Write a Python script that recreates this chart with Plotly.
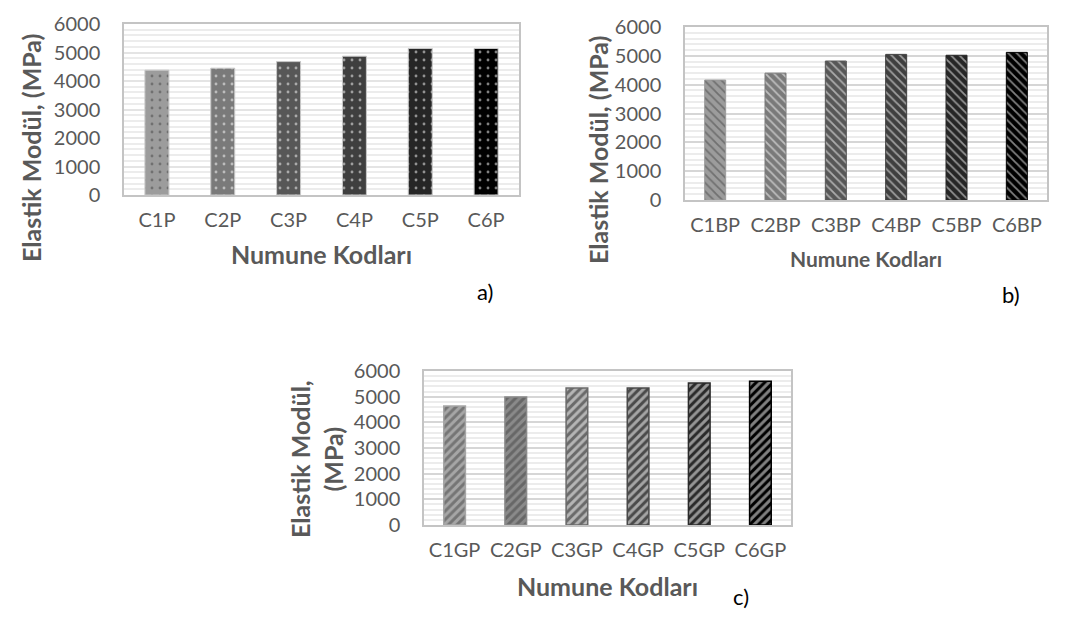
import plotly.graph_objects as go

W, H = 1074, 621

cats_a = ["C1P", "C2P", "C3P", "C4P", "C5P", "C6P"]
vals_a = [4380, 4450, 4680, 4870, 5140, 5140]

cats_b = ["C1BP", "C2BP", "C3BP", "C4BP", "C5BP", "C6BP"]
vals_b = [4160, 4400, 4820, 5050, 5020, 5120]

cats_c = ["C1GP", "C2GP", "C3GP", "C4GP", "C5GP", "C6GP"]
vals_c = [4640, 4990, 5340, 5340, 5530, 5600]

y_ticks = [0, 1000, 2000, 3000, 4000, 5000, 6000]
y_title = "Elastik Modül, (MPa)"
y_title_c = "Elastik Modül,<br>(MPa)"
x_title = "Numune Kodları"
panel_labels = ["a)", "b)", "c)"]

grays = ["#9c9c9c", "#7a7a7a", "#575757", "#3f3f3f", "#262626", "#000000"]
grays_c = ["#a6a6a6", "#8a8a8a", "#6a6a6a", "#4a4a4a", "#2a2a2a", "#000000"]

FONT = "Lato"
TXT = "#595959"

fig = go.Figure()

fig.add_trace(go.Bar(
    x=cats_a, y=vals_a, xaxis="x", yaxis="y", width=0.364,
    marker=dict(color=grays, line=dict(color="#c8c8c8", width=1),
                pattern=dict(shape=".", fgcolor="white", bgcolor=grays,
                             size=8, solidity=0.1)),
    showlegend=False))

fig.add_trace(go.Bar(
    x=cats_b, y=vals_b, xaxis="x2", yaxis="y2", width=0.348,
    marker=dict(color=grays, line=dict(color=grays, width=1),
                pattern=dict(shape="\\", fgcolor="#f0f0f0", bgcolor=grays,
                             size=6, solidity=0.3)),
    showlegend=False))

fig.add_trace(go.Bar(
    x=cats_c, y=vals_c, xaxis="x3", yaxis="y3", width=0.354,
    marker=dict(color=grays_c, line=dict(color=grays_c, width=1.5),
                pattern=dict(shape="/", fgcolor=grays_c, bgcolor="white",
                             size=6, solidity=0.5)),
    showlegend=False))


def px(x):
    return x / W


def py(y):
    return 1 - y / H


def xax(dom, tsize, title_size, standoff):
    return dict(domain=dom, type="category", showline=True, mirror=True,
                linecolor="#c4c4c4", linewidth=1.5, showgrid=False,
                ticks="outside", ticklen=6, tickcolor="rgba(0,0,0,0)",
                tickfont=dict(family=FONT, size=tsize, color=TXT),
                title=dict(text=x_title, standoff=standoff,
                           font=dict(family=FONT, size=title_size, color=TXT,
                                     weight="bold")),
                automargin=False, fixedrange=True)


def yax(dom, anchor, major_col):
    return dict(domain=dom, anchor=anchor, range=[0, 6000], tickvals=y_ticks,
                showline=True, mirror=True, linecolor="#c4c4c4", linewidth=1.5,
                showgrid=True, gridcolor=major_col, gridwidth=1.5,
                zeroline=False,
                minor=dict(dtick=200, showgrid=True, gridcolor="#ececec",
                           gridwidth=1.5),
                ticks="outside", ticklen=18, tickcolor="rgba(0,0,0,0)",
                tickfont=dict(family=FONT, size=20, color=TXT),
                automargin=False, fixedrange=True)


def ytitle(text, x, y, size=25):
    return dict(text=text, x=px(x), y=py(y), xref="paper", yref="paper",
                textangle=-90, showarrow=False, xanchor="center", yanchor="middle",
                font=dict(family=FONT, size=size, color=TXT, weight="bold"))


def plabel(text, x, y):
    return dict(text=text, x=px(x), y=py(y), xref="paper", yref="paper",
                showarrow=False, font=dict(family=FONT, size=22, color="black"))


fig.update_layout(
    width=W, height=H,
    margin=dict(l=0, r=0, t=0, b=0),
    paper_bgcolor="white", plot_bgcolor="white",
    xaxis=xax([px(116), px(511)], 20, 25, 17),
    yaxis=yax([py(187), py(16)], "x", "#e4e4e4"),
    xaxis2=dict(xax([px(677), px(1039)], 20, 21, 18), anchor="y2"),
    yaxis2=yax([py(192), py(19)], "x2", "#d6d6d6"),
    xaxis3=dict(xax([px(416), px(783)], 20, 25, 19), anchor="y3"),
    yaxis3=yax([py(517), py(363)], "x3", "#d6d6d6"),
    annotations=[
        ytitle(y_title, 23, 140),
        ytitle(y_title, 590, 142),
        ytitle(y_title_c, 308, 451),
        plabel(panel_labels[0], 477, 283),
        plabel(panel_labels[1], 1014, 286),
        plabel(panel_labels[2], 743, 604),
    ],
)

fig.write_html("out.html")
